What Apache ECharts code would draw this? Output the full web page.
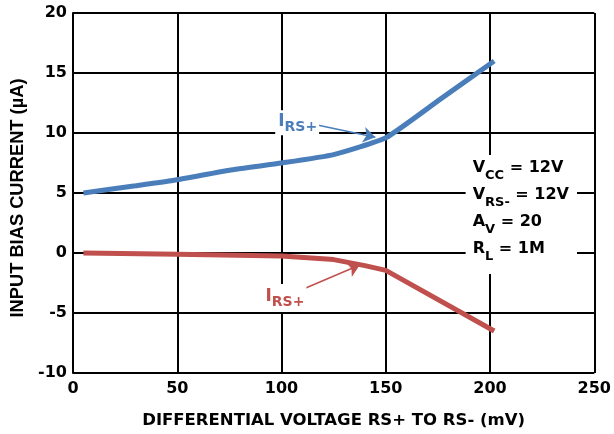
<!DOCTYPE html>
<html>
<head>
<meta charset="utf-8">
<script src="https://cdn.jsdelivr.net/npm/echarts@6/dist/echarts.min.js"></script>
<style>
* { margin: 0; padding: 0; }
#chart { width: 614px; height: 434px; }
</style>
</head>
<body>
<div id="chart"></div>
<script>
// data
const blueX = [5, 30, 50, 75, 100, 125, 150, 176, 202]
const blueY = [5.0, 5.6, 6.1, 6.9, 7.5, 8.2, 9.6, 12.8, 16.0]
const redX = [5, 50, 100, 125, 140, 150, 202]
const redY = [0, -0.1, -0.25, -0.55, -1.05, -1.45, -6.5]
const xTicks = [0, 50, 100, 150, 200, 250]
const yTicks = [-10, -5, 0, 5, 10, 15, 20]
const conditions = [
  ['V', 'CC', ' = 12V'],
  ['V', 'RS-', ' = 12V'],
  ['A', 'V', ' = 20'],
  ['R', 'L', ' = 1M']
]

const BLUE = '#4a7ebb'
const RED = '#c0504d'
const FONT = 'DejaVu Sans'
const ARIAL = 'Liberation Sans'

const pair = (xs, ys) => xs.map((x, i) => [x, ys[i]])

const chart = echarts.init(document.getElementById('chart'))

const subRich = (color, big, small, lh, drop) => ({
  n: { fontFamily: FONT, fontWeight: 'bold', fontSize: big, color: color, lineHeight: lh, verticalAlign: 'top' },
  s: { fontFamily: FONT, fontWeight: 'bold', fontSize: small, color: color, lineHeight: small + 1, verticalAlign: 'top', padding: [drop, 0, 0, 0] }
})

const note = (coord, text, rich, pad, align) => ({
  coord: coord,
  symbol: 'circle',
  symbolSize: 1,
  itemStyle: { color: 'rgba(0,0,0,0)' },
  label: {
    show: true,
    position: 'inside',
    align: align || 'center',
    formatter: text,
    backgroundColor: '#fff',
    padding: pad,
    rich: rich
  }
})

const arrow = (color, from, to) => ({
  silent: true,
  symbol: ['none', 'arrow'],
  symbolSize: 12,
  label: { show: false },
  lineStyle: { color: color, width: 1.5, type: 'solid' },
  itemStyle: { color: color },
  data: [[{ coord: from }, { coord: to }]]
})

const condText = conditions.map(c => '{n|' + c[0] + '}{s|' + c[1] + '}{n|' + c[2] + '}').join('\n')

chart.setOption({
  animation: false,
  grid: { left: 73, right: 10, top: 13, bottom: 59 },
  xAxis: {
    type: 'value',
    min: xTicks[0],
    max: xTicks[xTicks.length - 1],
    interval: 50,
    name: 'DIFFERENTIAL VOLTAGE RS+ TO RS- (mV)',
    nameLocation: 'middle',
    nameGap: 39,
    nameTextStyle: { fontFamily: FONT, fontWeight: 'bold', fontSize: 16.5, color: '#000' },
    axisLine: { lineStyle: { color: '#000', width: 2 } },
    axisTick: { show: false },
    axisLabel: { fontFamily: FONT, fontWeight: 'bold', fontSize: 16, color: '#000', margin: 8 },
    splitLine: { show: true, lineStyle: { color: '#000', width: 2 } }
  },
  yAxis: {
    type: 'value',
    min: yTicks[0],
    max: yTicks[yTicks.length - 1],
    interval: 5,
    name: 'INPUT BIAS CURRENT (µA)',
    nameLocation: 'middle',
    nameGap: 40,
    nameTextStyle: { fontFamily: ARIAL, fontWeight: 'bold', fontSize: 18.3, color: '#000', padding: [0, 10, 0, 0] },
    axisLine: { lineStyle: { color: '#000', width: 2 } },
    axisTick: { show: false },
    axisLabel: { fontFamily: FONT, fontWeight: 'bold', fontSize: 16, color: '#000', margin: 6 },
    splitLine: { show: true, lineStyle: { color: '#000', width: 2 } }
  },
  series: [
    {
      type: 'line',
      data: pair(blueX, blueY),
      showSymbol: false,
      smooth: 0.15,
      lineStyle: { color: BLUE, width: 5 },
      markLine: arrow(BLUE, [116, 10.7], [145, 9.65]),
      markPoint: {
        silent: true,
        data: [
          note([107.5, 10.85], '{n|I}{s|RS+}', subRich(BLUE, 17, 14, 20, 7), [3, 2, 2, 3]),
          note([188.3, 3.2], condText, subRich('#000', 16, 13, 27, 9), [5, 8, 6, 7], 'left')
        ]
      }
    },
    {
      type: 'line',
      data: pair(redX, redY),
      showSymbol: false,
      lineStyle: { color: RED, width: 5 },
      markLine: arrow(RED, [110.5, -3.0], [137.5, -1.0]),
      markPoint: {
        silent: true,
        data: [note([101.4, -3.75], '{n|I}{s|RS+}', subRich(RED, 17, 14, 20, 7), [4, 2, 4, 3])]
      }
    }
  ]
})
</script>
</body>
</html>
